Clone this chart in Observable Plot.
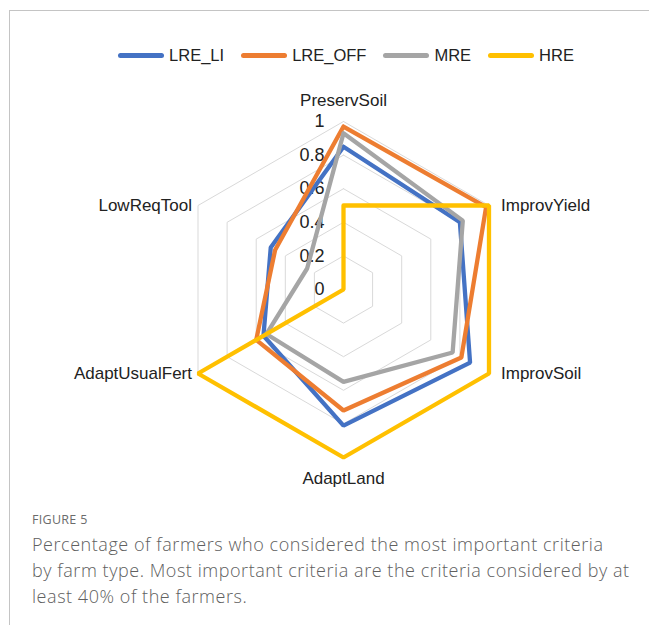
<!DOCTYPE html>
<html>
<head>
<meta charset="utf-8">
<script src="https://cdn.jsdelivr.net/npm/d3@7"></script>
<script src="https://cdn.jsdelivr.net/npm/@observablehq/plot@0.6"></script>
<style>
  html, body { margin: 0; padding: 0; background: #fff; }
  body { width: 649px; height: 625px; position: relative; overflow: hidden; font-family: "Liberation Sans", sans-serif; }
  #frame { position: absolute; left: 9px; top: 10px; width: 640px; height: 615px; border-top: 1.5px solid #c4c4c4; border-left: 1.5px solid #c4c4c4; box-sizing: border-box; }
  #legend { position: absolute; left: 43px; top: 46px; width: 606px; display: flex; justify-content: center; align-items: center; gap: 17px; font-size: 16.5px; color: #222; }
  .item { display: flex; align-items: center; gap: 5px; }
  .sw { width: 46px; height: 4.5px; border-radius: 3px; }
  #chart { position: absolute; left: 0; top: 60px; }
  #cap { position: absolute; left: 32px; top: 511px; width: 615px; color: #606060; font-family: "Open Sans", sans-serif; }
  #cap .fig { font-size: 12.5px; letter-spacing: 0.3px; color: #6b6b6b; margin-bottom: 3px; }
  #cap .txt { font-size: 18px; line-height: 26px; font-weight: 300; letter-spacing: 0.55px; white-space: nowrap; }
</style>
</head>
<body>
<div id="frame"></div>
<div id="legend"></div>
<div id="chart"></div>
<div id="cap">
  <div class="fig">FIGURE 5</div>
  <div class="txt">Percentage of farmers who considered the most important criteria<br>by farm type. Most important criteria are the criteria considered by at<br>least 40% of the farmers.</div>
</div>
<script>
const categories = ["PreservSoil", "ImprovYield", "ImprovSoil", "AdaptLand", "AdaptUsualFert", "LowReqTool"];
const seriesNames = ["LRE_LI", "LRE_OFF", "MRE", "HRE"];
const LRE_LI  = [0.85, 0.80, 0.87, 0.81, 0.55, 0.50];
const LRE_OFF = [0.97, 0.98, 0.81, 0.72, 0.60, 0.47];
const MRE     = [0.93, 0.82, 0.75, 0.55, 0.53, 0.25];
const HRE     = [0.50, 1.00, 1.00, 1.00, 1.00, 0.00];
const tickValues = [0, 0.2, 0.4, 0.6, 0.8, 1];
const seriesColors = ["#4472C4", "#ED7D31", "#A5A5A5", "#FFC000"];

const seriesValues = [LRE_LI, LRE_OFF, MRE, HRE];
const n = categories.length;
const ang = i => (i % n) * 2 * Math.PI / n;

const rows = [];
seriesNames.forEach((s, k) => {
  for (let i = 0; i <= n; i++) {
    rows.push({series: s, cat: categories[i % n], value: seriesValues[k][i % n], angle: ang(i)});
  }
});

const ringRows = [];
tickValues.filter(t => t > 0).forEach(t => {
  for (let i = 0; i <= n; i++) ringRows.push({tick: t, value: t, angle: ang(i)});
});

const labelRows = categories.map((c, i) => ({cat: c, angle: ang(i)}));
const px = d => d.value * Math.sin(d.angle);
const py = d => d.value * Math.cos(d.angle);
const side = d => Math.sin(d.angle);

const font = "'Liberation Sans', sans-serif";
const fs = 17;

const chart = Plot.plot({
  width: 649,
  height: 460,
  marginLeft: 91,
  marginRight: 54,
  marginTop: 10.6,
  marginBottom: 12.6,
  x: {domain: [-1.5, 1.5], axis: null},
  y: {domain: [-1.3, 1.3], axis: null},
  color: {domain: seriesNames, range: seriesColors},
  style: {fontFamily: font, background: "transparent", overflow: "visible"},
  marks: [
    Plot.line(ringRows, {x: px, y: py, z: "tick", stroke: "#d9d9d9", strokeWidth: 1}),
    Plot.text(tickValues, {x: 0, y: d => d, text: d => String(d), textAnchor: "end", dx: -19, fontSize: 18, fill: "#222"}),
    Plot.line(rows, {x: px, y: py, z: "series", stroke: "series", strokeWidth: 4.3, strokeLinejoin: "miter", curve: "linear"}),
    Plot.text(labelRows.filter(d => Math.abs(side(d)) < 0.01), {x: d => 1.125 * Math.sin(d.angle), y: d => 1.125 * Math.cos(d.angle), text: "cat", fontSize: fs, fill: "#222"}),
    Plot.text(labelRows.filter(d => side(d) > 0.01), {x: d => Math.sin(d.angle), y: d => Math.cos(d.angle), text: "cat", textAnchor: "start", dx: 12, fontSize: fs, fill: "#222"}),
    Plot.text(labelRows.filter(d => side(d) < -0.01), {x: d => Math.sin(d.angle), y: d => Math.cos(d.angle), text: "cat", textAnchor: "end", dx: -6, fontSize: fs, fill: "#222"})
  ]
});
document.getElementById("chart").appendChild(chart);

const legend = document.getElementById("legend");
seriesNames.forEach((s, k) => {
  const item = document.createElement("div");
  item.className = "item";
  const sw = document.createElement("div");
  sw.className = "sw";
  sw.style.background = seriesColors[k];
  const t = document.createElement("span");
  t.textContent = s;
  item.appendChild(sw);
  item.appendChild(t);
  legend.appendChild(item);
});
</script>
</body>
</html>
